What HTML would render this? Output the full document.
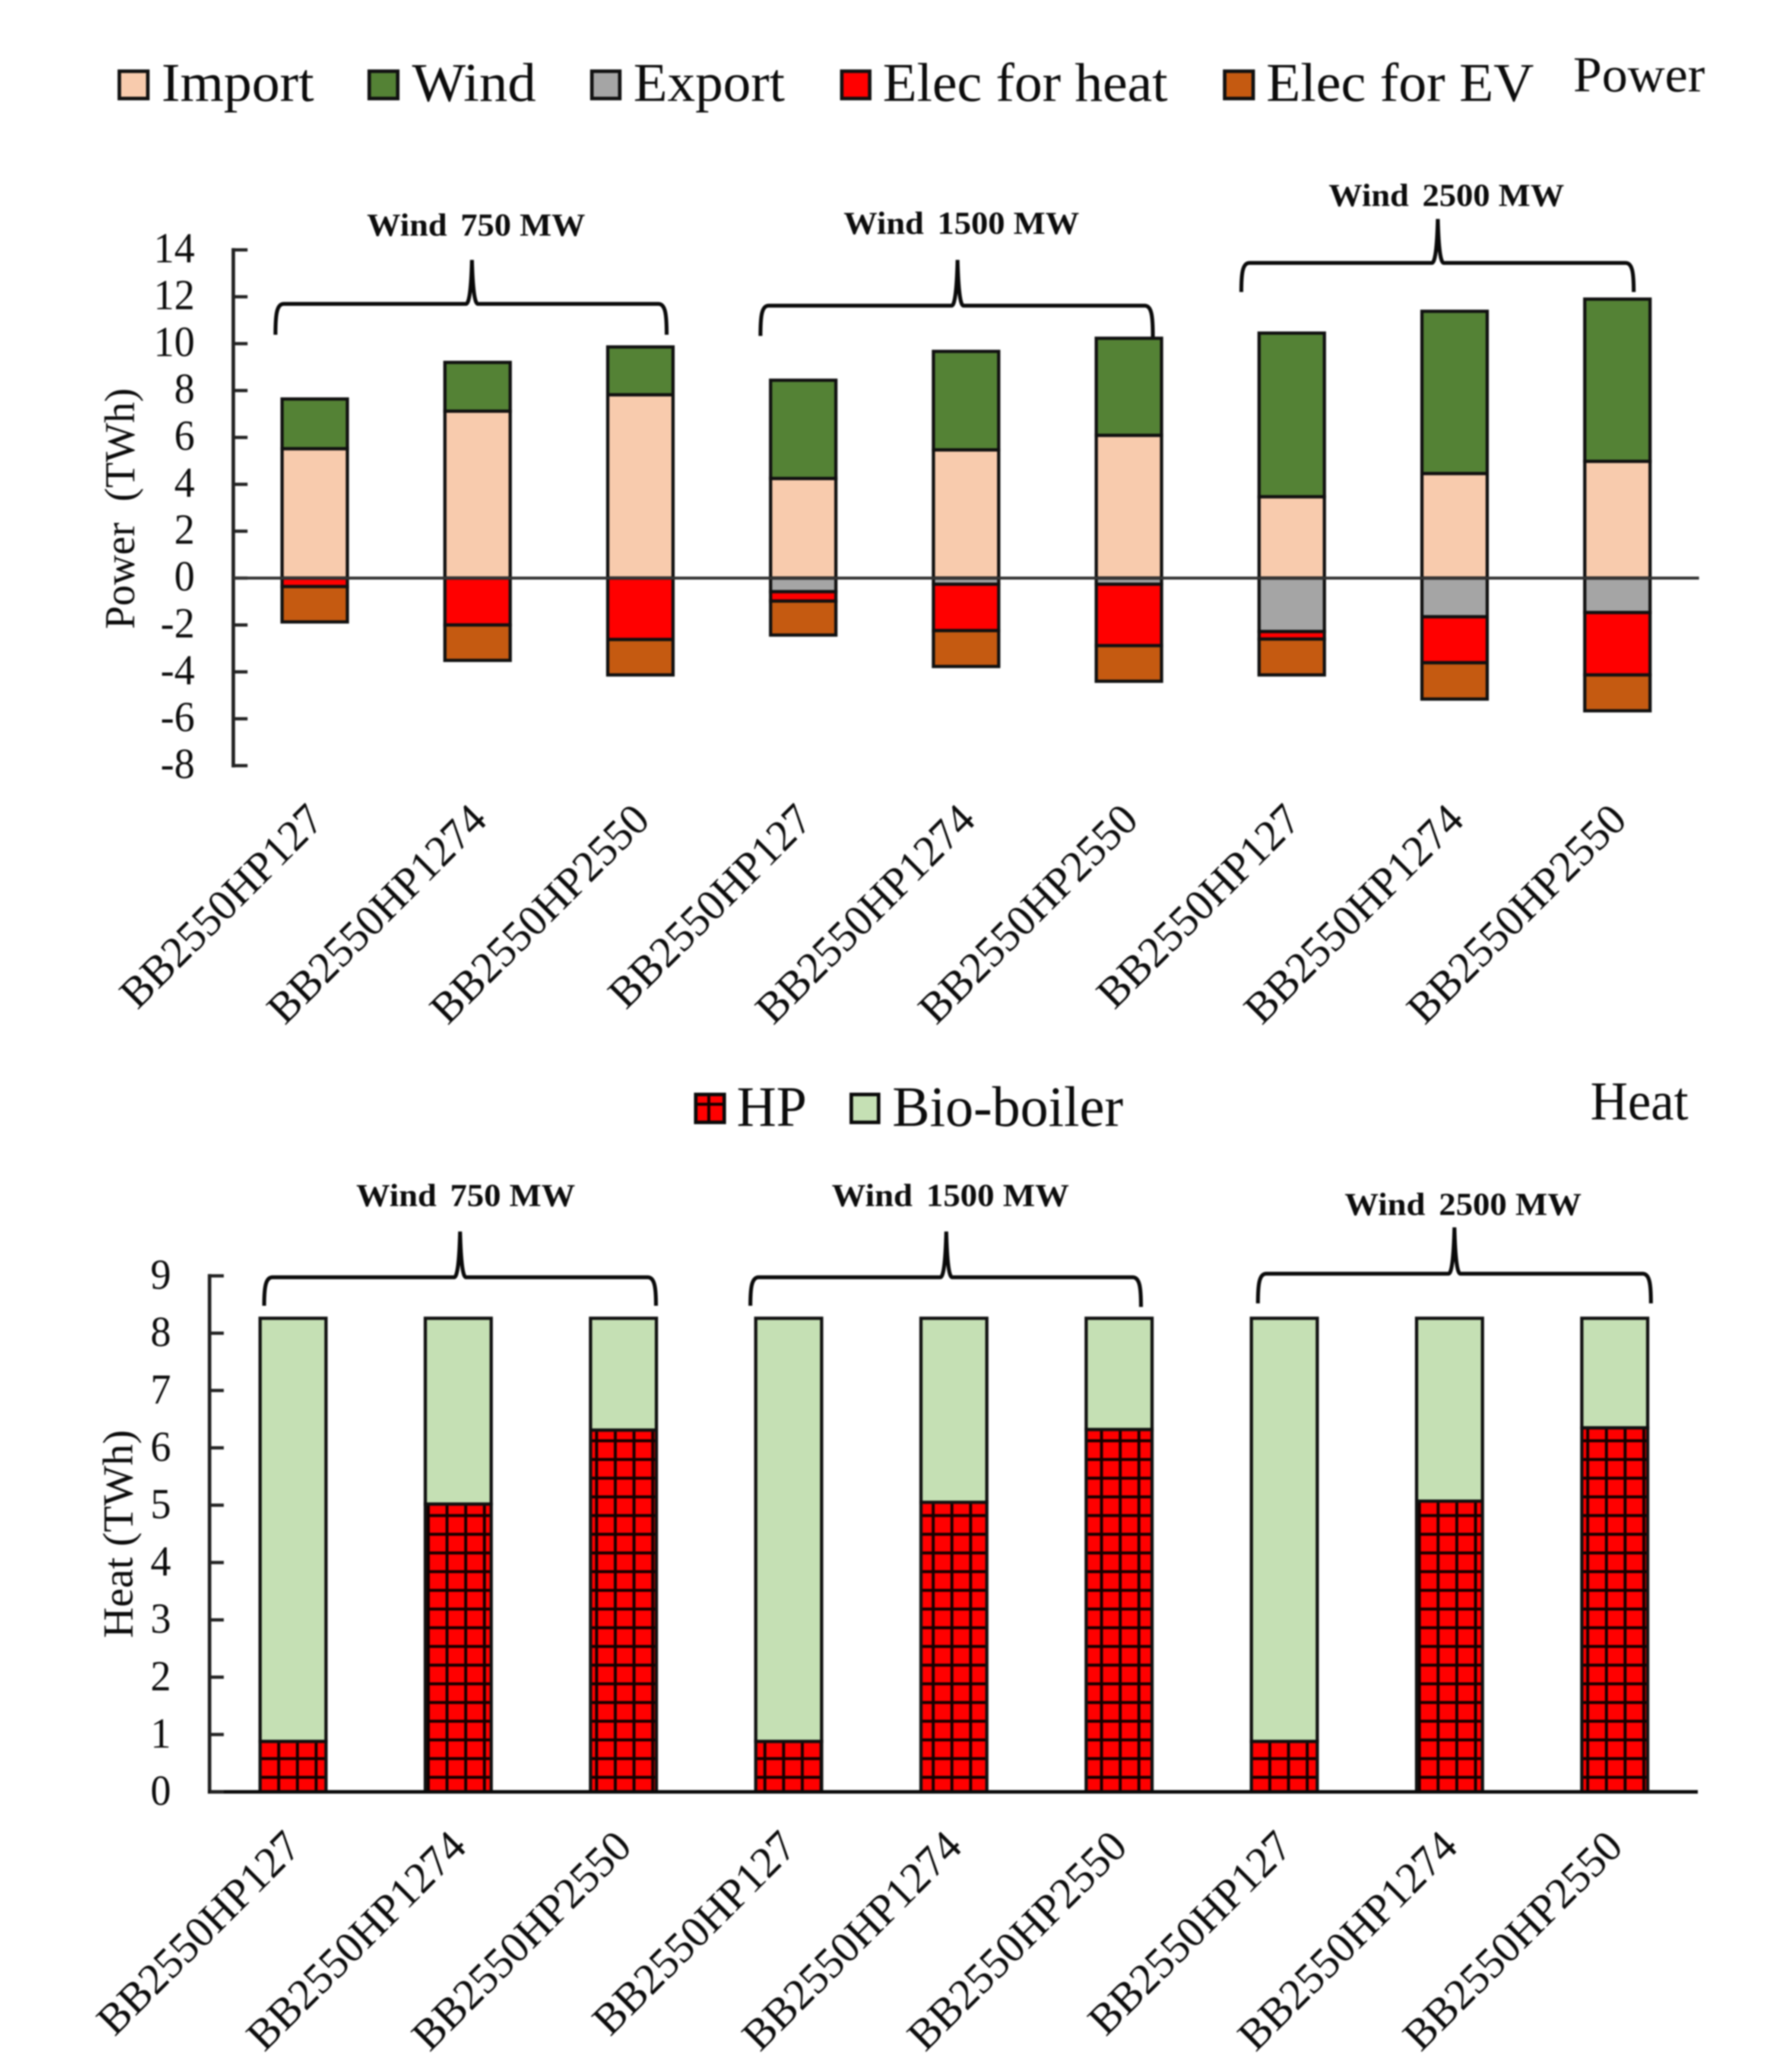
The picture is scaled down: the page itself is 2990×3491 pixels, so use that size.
<!DOCTYPE html>
<html lang="en">
<head>
<meta charset="utf-8">
<title>Power and heat balance by wind capacity</title>
<style>
html,body{margin:0;padding:0;background:#fff;width:2990px;height:3491px;overflow:hidden}
svg{display:block;filter:blur(1.2px)}
text{font-family:"Liberation Serif",serif;fill:#0c0c0c}
.group{font-weight:bold;font-size:54px}
.legend{font-size:92px}
.tick{font-size:72px}
.cat{font-size:73.5px}
.brace{fill:none;stroke:#0a0a0a;stroke-width:6.5}
</style>
</head>
<body>
<svg id="figure" xmlns="http://www.w3.org/2000/svg" width="2990" height="3491" viewBox="0 0 2990 3491">
<defs>
<pattern id="hatch" patternUnits="userSpaceOnUse" x="467" y="2992" width="31.5" height="31.5">
<rect width="31.5" height="31.5" fill="#ff0000"/>
<path d="M2.5 0V31.5M0 2.5H31.5" stroke="#150000" stroke-width="5" fill="none"/>
</pattern>
</defs>

<g>
<rect x="201" y="120" width="48" height="46" fill="#F8CBAD" stroke="#111" stroke-width="6"/>
<text class="legend" x="272" y="170" textLength="257" lengthAdjust="spacingAndGlyphs">Import</text>
<rect x="622" y="120" width="48" height="46" fill="#548235" stroke="#111" stroke-width="6"/>
<text class="legend" x="694" y="170" textLength="209" lengthAdjust="spacingAndGlyphs">Wind</text>
<rect x="997" y="120" width="47" height="46" fill="#A5A5A5" stroke="#111" stroke-width="6"/>
<text class="legend" x="1067" y="170" textLength="255" lengthAdjust="spacingAndGlyphs">Export</text>
<rect x="1418" y="120" width="47" height="46" fill="#FF0000" stroke="#111" stroke-width="6"/>
<text class="legend" x="1487" y="170" textLength="480" lengthAdjust="spacingAndGlyphs">Elec for heat</text>
<rect x="2063" y="120" width="48" height="46" fill="#C55A11" stroke="#111" stroke-width="6"/>
<text class="legend" x="2133" y="170" textLength="451" lengthAdjust="spacingAndGlyphs">Elec for EV</text>
</g>
<text x="2650" y="154" font-size="85" textLength="222" lengthAdjust="spacingAndGlyphs">Power</text>

<g>
<text class="group" x="618" y="397" textLength="368" lengthAdjust="spacingAndGlyphs">Wind <tspan dx="8">750</tspan> MW</text>
<path class="brace" d="M464 564C464 530 466 512 478 512L785 512Q793 512 795 438Q797 512 805 512L1109 512C1121 512 1123 530 1123 564"/>
<text class="group" x="1421" y="394" textLength="397" lengthAdjust="spacingAndGlyphs">Wind <tspan dx="8">1500</tspan> MW</text>
<path class="brace" d="M1281 566C1281 532 1283 515 1295 515L1603 515Q1611 515 1613 438Q1615 515 1623 515L1928 515C1940 515 1942 532 1942 568"/>
<text class="group" x="2238" y="347" textLength="397" lengthAdjust="spacingAndGlyphs">Wind <tspan dx="8">2500</tspan> MW</text>
<path class="brace" d="M2091 492C2091 460 2093 443 2105 443L2412 443Q2420 443 2422 369Q2424 443 2432 443L2738 443C2750 443 2752 460 2752 492"/>
</g>

<text transform="translate(226,1060) rotate(-90)" font-size="72" textLength="406" lengthAdjust="spacingAndGlyphs" xml:space="preserve">Power  (TWh)</text>

<g id="power-chart"></g>

<g>
<rect x="1172" y="1844" width="48" height="47" fill="url(#hatch)"/>
<rect x="1172" y="1844" width="48" height="47" fill="none" stroke="#0a0a0a" stroke-width="6"/>
<text class="legend" x="1241" y="1897" style="font-size:96px" textLength="118" lengthAdjust="spacingAndGlyphs">HP</text>
<rect x="1434" y="1844" width="46" height="47" fill="#C5E0B4" stroke="#0a0a0a" stroke-width="6"/>
<text class="legend" x="1503" y="1897" style="font-size:96px" textLength="389" lengthAdjust="spacingAndGlyphs">Bio-boiler</text>
</g>
<text x="2679" y="1886" font-size="92" textLength="165" lengthAdjust="spacingAndGlyphs">Heat</text>

<g>
<text class="group" x="600" y="2032" textLength="369" lengthAdjust="spacingAndGlyphs">Wind <tspan dx="8">750</tspan> MW</text>
<path class="brace" d="M445 2200C445 2170 447 2152 459 2152L765 2152Q773 2152 775 2075Q777 2152 785 2152L1091 2152C1103 2152 1105 2170 1105 2200"/>
<text class="group" x="1401" y="2032" textLength="400" lengthAdjust="spacingAndGlyphs">Wind <tspan dx="8">1500</tspan> MW</text>
<path class="brace" d="M1264 2200C1264 2170 1266 2152 1278 2152L1584 2152Q1592 2152 1594 2075Q1596 2152 1604 2152L1908 2152C1920 2152 1922 2170 1922 2202"/>
<text class="group" x="2265" y="2047" textLength="399" lengthAdjust="spacingAndGlyphs">Wind <tspan dx="8">2500</tspan> MW</text>
<path class="brace" d="M2119 2196C2119 2164 2121 2146 2133 2146L2440 2146Q2448 2146 2450 2068Q2452 2146 2460 2146L2767 2146C2779 2146 2781 2164 2781 2196"/>
</g>

<text transform="translate(223,2760) rotate(-90)" font-size="72" textLength="351" lengthAdjust="spacingAndGlyphs">Heat (TWh)</text>

<g id="heat-chart"></g>
</svg>

<script>
const categories = ["BB2550HP127","BB2550HP1274","BB2550HP2550","BB2550HP127","BB2550HP1274","BB2550HP2550","BB2550HP127","BB2550HP1274","BB2550HP2550"];
const importValues = [5.52,7.12,7.82,4.25,5.47,6.09,3.47,4.46,4.98];
const windValues = [2.12,2.08,2.04,4.19,4.20,4.14,6.98,6.92,6.92];
const exportValues = [0,0,0,0.58,0.26,0.26,2.28,1.65,1.47];
const elecHeatValues = [0.36,2.00,2.62,0.40,1.98,2.62,0.32,1.96,2.66];
const elecEvValues = [1.51,1.51,1.51,1.45,1.53,1.52,1.53,1.55,1.53];
const powerTicks = [14,12,10,8,6,4,2,0,-2,-4,-6,-8];
const hpValues = [0.88,5.02,6.31,0.88,5.05,6.32,0.88,5.07,6.35];
const bioValues = [7.38,3.24,1.95,7.38,3.21,1.94,7.38,3.19,1.91];
const heatTicks = [9,8,7,6,5,4,3,2,1,0];

const SVGNS = "http://www.w3.org/2000/svg";
const powerY = v => 974 - v * 39.5;
const powerX = i => 393 + 274.3 * (i + 0.5);
const heatY = v => 3019 - v * 96.6;
const heatX = i => 354.5 + 278.3 * (i + 0.5);

function make(parent, tag, attrs, content) {
  const el = document.createElementNS(SVGNS, tag);
  for (const k in attrs) el.setAttribute(k, attrs[k]);
  if (content !== undefined) el.textContent = content;
  parent.appendChild(el);
  return el;
}

function segment(parent, x, width, v0, v1, yFn, fill) {
  return make(parent, "rect", {
    x: x - width / 2,
    y: Math.min(yFn(v0), yFn(v1)),
    width: width,
    height: Math.abs(yFn(v1) - yFn(v0)),
    fill: fill,
    stroke: "#111",
    "stroke-width": 5.5
  });
}

/* ---------- power chart ---------- */
const powerChart = document.getElementById("power-chart");

const powerSeries = [
  { key: "import", values: importValues, fill: "#F8CBAD", dir: 1 },
  { key: "wind", values: windValues, fill: "#548235", dir: 1 },
  { key: "export", values: exportValues, fill: "#A5A5A5", dir: -1 },
  { key: "elec-heat", values: elecHeatValues, fill: "#FF0000", dir: -1 },
  { key: "elec-ev", values: elecEvValues, fill: "#C55A11", dir: -1 }
];

categories.forEach((cat, i) => {
  let up = 0;
  let down = 0;
  powerSeries.forEach(s => {
    const v = s.values[i];
    if (v <= 0) return;
    const start = s.dir > 0 ? up : down;
    const end = start + s.dir * v;
    const bar = segment(powerChart, powerX(i), 110, start, end, powerY, s.fill);
    
    
    if (s.dir > 0) up = end; else down = end;
  });
  const label = make(powerChart, "text", {
    class: "cat",
    "text-anchor": "end",
    transform: "translate(" + (powerX(i) + 19) + ",1385) rotate(-45)"
  }, cat);
  
  
});

const powerAxis = make(powerChart, "line", { x1: 393, x2: 393, y1: powerY(14) - 3, y2: powerY(-8) + 3, stroke: "#222", "stroke-width": 6 });



powerTicks.forEach(t => {
  const mark = make(powerChart, "line", { x1: 393, x2: 417, y1: powerY(t), y2: powerY(t), stroke: "#222", "stroke-width": 5.5 });
  
  
  const lab = make(powerChart, "text", {
    class: "tick",
    "text-anchor": "end",
    transform: "translate(328," + (powerY(t) + 21) + ") scale(0.96,1)"
  }, String(t));
  
  
});

const zeroLine = make(powerChart, "line", { x1: 393, x2: 2862, y1: powerY(0), y2: powerY(0), stroke: "#333", "stroke-width": 5 });



/* ---------- heat chart ---------- */
const heatChart = document.getElementById("heat-chart");

categories.forEach((cat, i) => {
  const hp = segment(heatChart, heatX(i), 111, 0, hpValues[i], heatY, "url(#hatch)");
  
  
  const bio = segment(heatChart, heatX(i), 111, hpValues[i], hpValues[i] + bioValues[i], heatY, "#C5E0B4");
  
  
  const label = make(heatChart, "text", {
    class: "cat",
    "text-anchor": "end",
    transform: "translate(" + (heatX(i) + 17) + ",3115) rotate(-45)"
  }, cat);
  
  
});

const heatYAxis = make(heatChart, "line", { x1: 353, x2: 353, y1: heatY(9) - 3, y2: heatY(0) + 3, stroke: "#222", "stroke-width": 6 });



const heatXAxis = make(heatChart, "line", { x1: 351, x2: 2860, y1: heatY(0), y2: heatY(0), stroke: "#0a0a0a", "stroke-width": 6 });



heatTicks.forEach(t => {
  const mark = make(heatChart, "line", { x1: 353, x2: 377, y1: heatY(t), y2: heatY(t), stroke: "#222", "stroke-width": 5.5 });
  
  
  const lab = make(heatChart, "text", {
    class: "tick",
    "text-anchor": "end",
    transform: "translate(288," + (heatY(t) + 22) + ") scale(0.96,1)"
  }, String(t));
  
  
});
</script>
</body>
</html>
